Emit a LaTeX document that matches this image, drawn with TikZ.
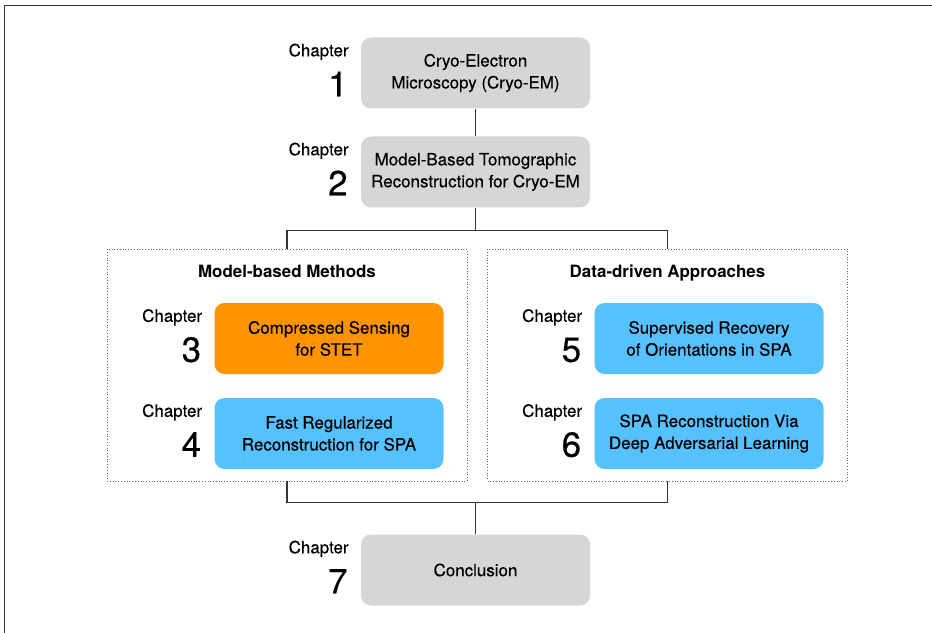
\documentclass[tikz,border=0pt]{standalone}
\usepackage{fontspec}
\setmainfont{TeX Gyre Heros}[UprightFeatures={FakeBold=0.4}]
\usetikzlibrary{positioning}

\definecolor{boxgray}{HTML}{D6D6D6}
\definecolor{boxorange}{HTML}{FF9300}
\definecolor{boxblue}{HTML}{56C1FF}
\definecolor{linegray}{HTML}{333333}

\tikzset{
  chapbox/.style={rounded corners=10bp, minimum width=229bp, minimum height=71bp,
    align=center, inner sep=0pt, font=\fontsize{17}{22}\selectfont},
  groupbox/.style={draw=black!60, dotted, line width=0.8bp,
    minimum width=360bp, minimum height=232bp, inner sep=0pt},
  grouptitle/.style={anchor=base, inner sep=0pt, font=\fontsize{17}{20}\selectfont\bfseries},
  chaplabel/.style={anchor=base east, inner sep=0pt, font=\fontsize{17}{20}\selectfont},
  chapnum/.style={anchor=base east, inner sep=0pt, font=\fontsize{35}{40}\selectfont},
  link/.style={draw=linegray, line width=1.2bp},
  frame/.style={draw=black!80, line width=1.8bp}
}

\begin{document}
\begin{tikzpicture}[x=1bp, y=-1bp]
\useasboundingbox (0,0) rectangle (932,633);
\draw[frame] (4.5,633) |- (932,5.5);

% chapters 1 and 2
\node[chapbox, fill=boxgray] (b1) at (475.5,73) {Cryo-Electron\\Microscopy (Cryo-EM)};
\node[chapbox, fill=boxgray] (b2) at (475.5,172) {Model-Based Tomographic\\Reconstruction for Cryo-EM};

% the two groups
\node[groupbox] (g1) at (287,365) {};
\node[groupbox] (g2) at (667.5,365) {};
\node[grouptitle] (t1) at (287,278) {Model-based Methods};
\node[grouptitle] (t2) at (667.5,278) {Data-driven Approaches};

\node[chapbox, fill=boxorange] (b3) at (329,338.5) {Compressed Sensing\\for STET};
\node[chapbox, fill=boxblue] (b4) at (329,433.5) {Fast Regularized\\Reconstruction for SPA};
\node[chapbox, fill=boxblue] (b5) at (709,338.5) {Supervised Recovery\\of Orientations in SPA};
\node[chapbox, fill=boxblue] (b6) at (709,433.5) {SPA Reconstruction Via\\Deep Adversarial Learning};

% chapter 7
\node[chapbox, fill=boxgray] (b7) at (475.5,570) {Conclusion};

% chapter numbers
\foreach \b/\n in {b1/1, b2/2, b3/3, b4/4, b5/5, b6/6, b7/7}{
  \node[chaplabel] (l\n) at ([shift={(-12,19)}]\b.north west) {Chapter};
  \node[chapnum] (n\n) at ([shift={(-13,59)}]\b.north west) {\n};
}

% connectors
\draw[link] (b1.south) -- (b2.north);
\draw[link] (b2.south) -- ++(0,23) coordinate (top) -| (g1.north);
\draw[link] (top) -| (g2.north);
\draw[link] (g1.south) -- ++(0,21) coordinate (bot) -| (g2.south);
\draw[link] (b7.north) -- (b7.north |- bot);

\end{tikzpicture}
\end{document}
